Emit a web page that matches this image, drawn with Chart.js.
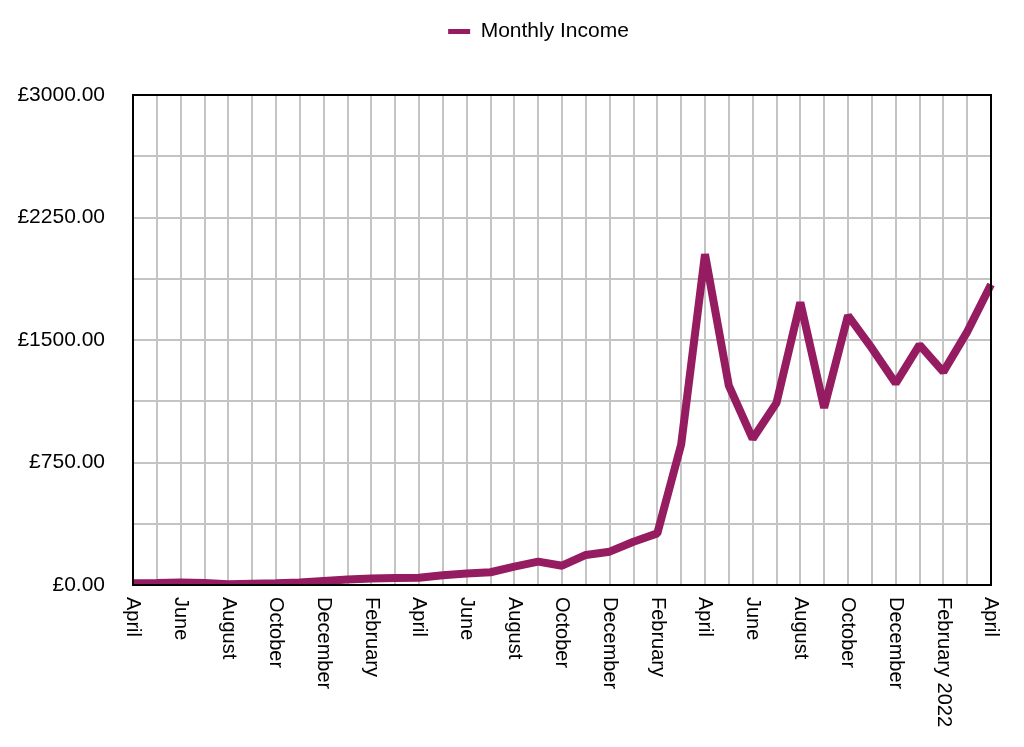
<!DOCTYPE html>
<html><head><meta charset="utf-8">
<script src="https://cdn.jsdelivr.net/npm/chart.js@4"></script>
<style>html,body{margin:0;padding:0;background:#fff}#wrap{width:1024px;height:747px}</style>
</head><body><div id="wrap"><canvas id="c" width="1024" height="747"></canvas></div>
<script>
const monthLabels = ["April","May","June","July","August","September","October","November","December","January","February","March",
  "April","May","June","July","August","September","October","November","December","January","February","March",
  "April","May","June","July","August","September","October","November","December","January","February 2022","March","April"];
const monthlyIncome = [10,12,15,12,5,8,10,15,25,33,40,43,45,60,70,78,112,143,118,184,204,265,316,860,2025,1220,895,1115,1730,1085,1650,1450,1235,1470,1305,1550,1840];
const seriesName = "Monthly Income";
const yMin = 0, yMax = 3000, yStep = 375, yLabelStep = 750;

const FONT = "'Liberation Sans', Arial, Helvetica, sans-serif";
const LINE = "#951c60";

const frame = {
  id: 'frame',
  afterDraw(chart) {
    const a = chart.chartArea, ctx = chart.ctx;
    ctx.save(); ctx.strokeStyle = '#000'; ctx.lineWidth = 2;
    ctx.strokeRect(a.left, a.top, a.right - a.left, a.bottom - a.top);
    ctx.restore();
  }
};
const xLabels = {
  id: 'xLabels',
  afterDraw(chart) {
    const s = chart.scales.x, ctx = chart.ctx;
    ctx.save(); ctx.fillStyle = '#000'; ctx.font = "20px " + FONT;
    ctx.textAlign = 'left'; ctx.textBaseline = 'middle';
    s.ticks.forEach((t, i) => {
      if (i % 2 !== 0) return;
      const lab = s.getLabelForValue(t.value);
      const x = s.getPixelForTick(i);
      ctx.save(); ctx.translate(x, chart.chartArea.bottom + 12); ctx.rotate(Math.PI / 2);
      ctx.fillText(lab, 0, 0); ctx.restore();
    });
    ctx.restore();
  }
};
const legendSpace = {
  id: 'legendSpace',
  beforeInit(chart) {
    const fit = chart.legend.fit;
    chart.legend.fit = function () { fit.call(this); this.height += 43; };
  },
  beforeDraw(chart) {
    chart.legend.left += 35; chart.legend.right += 35;
  }
};

new Chart(document.getElementById('c'), {
  type: 'line',
  data: {
    labels: monthLabels,
    datasets: [{
      label: seriesName, data: monthlyIncome,
      borderColor: LINE, backgroundColor: LINE, borderWidth: 8,
      pointRadius: 0, tension: 0, borderJoinStyle: 'bevel', fill: false
    }]
  },
  options: {
    responsive: false, animation: false, devicePixelRatio: 1,
    layout: { padding: { left: 16, right: 33, top: 11, bottom: 162 } },
    plugins: {
      legend: {
        position: 'top',
        labels: {
          font: { family: FONT, size: 21 }, color: '#000',
          usePointStyle: true, pointStyle: 'line', pointStyleWidth: 22, padding: 10,
          generateLabels(chart) {
            const items = Chart.defaults.plugins.legend.labels.generateLabels(chart);
            items.forEach(it => { it.lineWidth = 5; it.pointStyle = 'line'; });
            return items;
          }
        }
      },
      tooltip: { enabled: false }
    },
    scales: {
      x: {
        offset: false,
        grid: { color: '#c4c4c4', lineWidth: 2, drawTicks: false },
        border: { color: '#000', width: 2 },
        ticks: { display: false, autoSkip: false }
      },
      y: {
        min: yMin, max: yMax,
        afterFit(scale) { scale.width = 117; },
        grid: { color: '#c4c4c4', lineWidth: 2, drawTicks: false },
        border: { color: '#000', width: 2 },
        ticks: {
          stepSize: yStep, padding: 28, color: '#000', font: { family: FONT, size: 21 },
          callback(v) { return v % yLabelStep === 0 ? '£' + Number(v).toFixed(2) : ''; }
        }
      }
    }
  },
  plugins: [frame, xLabels, legendSpace]
});
</script>
</body></html>
